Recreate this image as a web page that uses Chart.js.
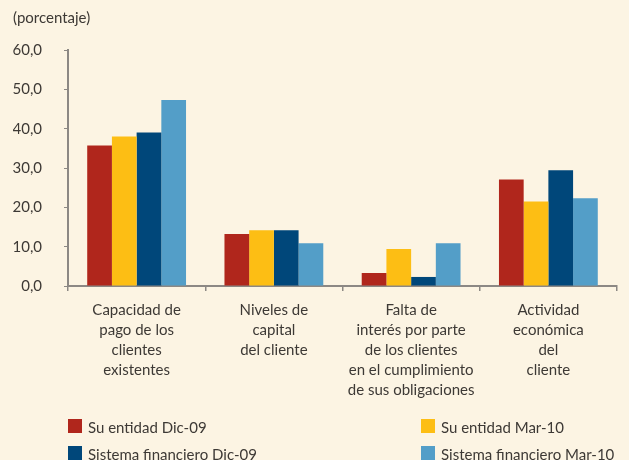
<!DOCTYPE html>
<html>
<head>
<meta charset="utf-8">
<script src="https://cdn.jsdelivr.net/npm/chart.js@4"></script>
<style>
  body { margin: 0; background: #FCF4E3; }
  #wrap { position: relative; width: 629px; height: 460px; }
  .leg { position: absolute; font: 15px Lato, sans-serif; line-height: 18px; color: #3d3935; white-space: nowrap; }
  .leg span { display: inline-block; width: 14px; height: 14px; vertical-align: baseline; margin-right: 6px; }
</style>
</head>
<body>
<div id="wrap">
  <canvas id="bars" width="629" height="460"></canvas>
</div>
<script>
const categories = [
  ['Capacidad de', 'pago de los', 'clientes', 'existentes'],
  ['Niveles de', 'capital', 'del cliente'],
  ['Falta de', 'interés por parte', 'de los clientes', 'en el cumplimiento', 'de sus obligaciones'],
  ['Actividad', 'económica', 'del', 'cliente']
];
const seriesNames = ['Su entidad Dic-09', 'Su entidad Mar-10', 'Sistema financiero Dic-09', 'Sistema financiero Mar-10'];
const entidadDic09 = [35.7, 13.2, 3.3, 27.1];
const entidadMar10 = [38.0, 14.2, 9.4, 21.5];
const sistemaDic09 = [39.0, 14.2, 2.3, 29.4];
const sistemaMar10 = [47.3, 10.9, 10.9, 22.3];
const colors = ['#B0261C', '#FDBE14', '#00477A', '#539EC8'];
const yTicks = [0, 10, 20, 30, 40, 50, 60];

const txt = '#3d3935';
const axisGray = '#8c8884';
const values = [entidadDic09, entidadMar10, sistemaDic09, sistemaMar10];

new Chart(document.getElementById('bars'), {
  type: 'bar',
  data: {
    labels: categories,
    datasets: values.map((v, i) => ({
      label: seriesNames[i],
      data: v,
      backgroundColor: colors[i],
      borderWidth: 0,
      categoryPercentage: 0.72,
      barPercentage: 1.0
    }))
  },
  options: {
    responsive: false,
    animation: false,
    layout: { padding: { left: 13, right: 12, top: 0, bottom: 51 } },
    plugins: {
      legend: { display: false },
      tooltip: { enabled: false },
      title: {
        display: true,
        text: '(porcentaje)',
        align: 'start',
        color: txt,
        font: { family: 'Lato', size: 15, weight: 'normal' },
        padding: { top: 9, bottom: 23 }
      }
    },
    scales: {
      x: {
        grid: { offset: true, drawOnChartArea: false, tickLength: 5, color: axisGray, lineWidth: 1.5 },
        border: { color: axisGray, width: 2 },
        ticks: {
          autoSkip: false,
          maxRotation: 0,
          padding: 9,
          color: txt,
          font: { family: 'Lato', size: 15, lineHeight: '20px' }
        }
      },
      y: {
        min: 0,
        max: 60,
        afterBuildTicks: axis => { axis.ticks = yTicks.map(v => ({ value: v })); },
        afterFit: axis => { axis.width = 55; },
        grid: { drawOnChartArea: false, tickLength: 4, color: axisGray },
        border: { color: axisGray, width: 2 },
        ticks: {
          padding: 22,
          color: txt,
          font: { family: 'Lato', size: 15 },
          callback: v => v.toFixed(1).replace('.', ',')
        }
      }
    }
  }
});

// legend in two columns, built from the series names and colours
const legPos = [[68, 418], [421, 418], [68, 445], [421, 445]];
seriesNames.forEach((name, i) => {
  const d = document.createElement('div');
  d.className = 'leg';
  d.style.left = legPos[i][0] + 'px';
  d.style.top = legPos[i][1] + 'px';
  d.innerHTML = '<span style="background:' + colors[i] + '"></span>' + name;
  document.getElementById('wrap').appendChild(d);
});
</script>
</body>
</html>
